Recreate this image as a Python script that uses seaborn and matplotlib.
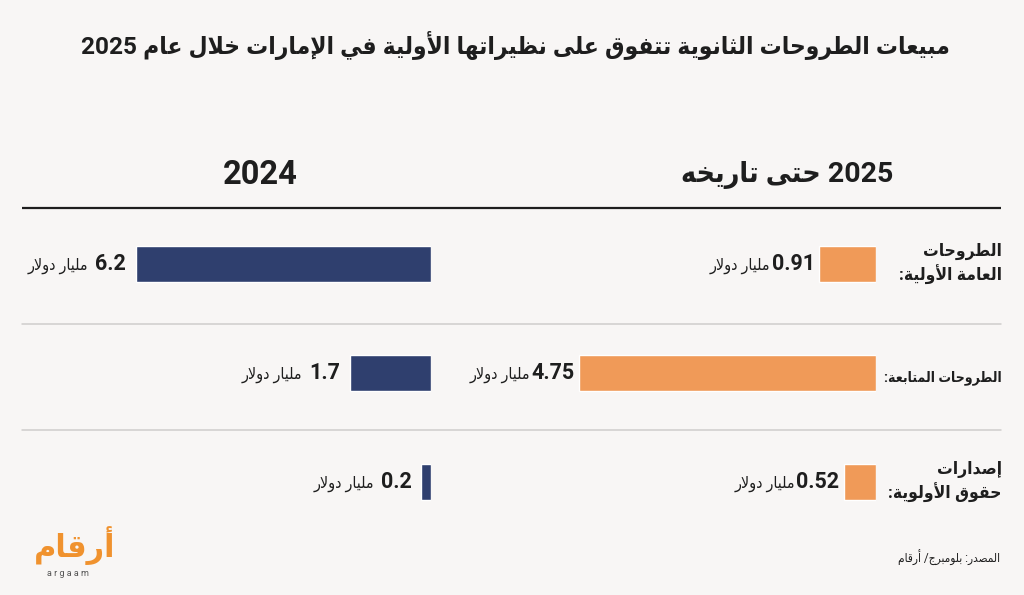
import matplotlib
matplotlib.use("Agg")
import matplotlib.pyplot as plt
import seaborn as sns
import pandas as pd

# data
categories = ["الطروحات\nالعامة الأولية:", "الطروحات المتابعة:", "إصدارات\nحقوق الأولوية:"]
values_2025 = [0.91, 4.75, 0.52]
values_2024 = [6.2, 1.7, 0.2]
labels_2025 = ["0.91", "4.75", "0.52"]
labels_2024 = ["6.2", "1.7", "0.2"]
unit = "مليار دولار"
title = "مبيعات الطروحات الثانوية تتفوق على نظيراتها الأولية في الإمارات خلال عام 2025"
header_2025 = "2025 حتى تاريخه"
header_2024 = "2024"
source = "المصدر: بلومبرج/ أرقام"

BG = "#f8f6f5"
ORANGE = "#f09a58"
NAVY = "#2f3f6e"
DARK = "#1e1e1e"

# matplotlib has no arabic shaping, so do the letter forms + rtl order by hand
FORMS = {
    'ء': (0xFE80, 1), 'آ': (0xFE81, 2), 'أ': (0xFE83, 2), 'ؤ': (0xFE85, 2), 'إ': (0xFE87, 2),
    'ئ': (0xFE89, 4), 'ا': (0xFE8D, 2), 'ب': (0xFE8F, 4), 'ة': (0xFE93, 2), 'ت': (0xFE95, 4),
    'ث': (0xFE99, 4), 'ج': (0xFE9D, 4), 'ح': (0xFEA1, 4), 'خ': (0xFEA5, 4), 'د': (0xFEA9, 2),
    'ذ': (0xFEAB, 2), 'ر': (0xFEAD, 2), 'ز': (0xFEAF, 2), 'س': (0xFEB1, 4), 'ش': (0xFEB5, 4),
    'ص': (0xFEB9, 4), 'ض': (0xFEBD, 4), 'ط': (0xFEC1, 4), 'ظ': (0xFEC5, 4), 'ع': (0xFEC9, 4),
    'غ': (0xFECD, 4), 'ف': (0xFED1, 4), 'ق': (0xFED5, 4), 'ك': (0xFED9, 4), 'ل': (0xFEDD, 4),
    'م': (0xFEE1, 4), 'ن': (0xFEE5, 4), 'ه': (0xFEE9, 4), 'و': (0xFEED, 2), 'ى': (0xFEEF, 2),
    'ي': (0xFEF1, 4),
}
LAM_ALEF = {'آ': 0xFEF5, 'أ': 0xFEF7, 'إ': 0xFEF9, 'ا': 0xFEFB}


def shape_line(s):
    toks = []
    i = 0
    while i < len(s):
        if s[i] == 'ل' and i + 1 < len(s) and s[i + 1] in LAM_ALEF:
            toks.append((LAM_ALEF[s[i + 1]], 2))
            i += 2
        elif s[i] in FORMS:
            toks.append(FORMS[s[i]])
            i += 1
        else:
            toks.append((s[i], 0))
            i += 1
    out = []
    for k, (base, n) in enumerate(toks):
        if n == 0:
            out.append(base)
            continue
        prev_ok = k > 0 and toks[k - 1][1] == 4 and n >= 2
        next_ok = n == 4 and k + 1 < len(toks) and toks[k + 1][1] >= 2
        if n == 1:
            off = 0
        elif prev_ok and next_ok:
            off = 3
        elif prev_ok:
            off = 1
        elif next_ok:
            off = 2
        else:
            off = 0
        out.append(chr(base + off))
    # visual order: reverse, but keep numbers left to right
    runs = []
    for ch in out:
        ltr = ch.isascii() and (ch.isalnum() or ch == '.')
        if runs and runs[-1][0] == ltr:
            runs[-1][1].append(ch)
        else:
            runs.append([ltr, [ch]])
    vis = ""
    for ltr, chars in reversed(runs):
        vis += "".join(chars) if ltr else "".join(reversed(chars))
    return vis


def ar(s):
    return "\n".join(shape_line(line) for line in s.split("\n"))


sns.set_style("white")
plt.rcParams['font.family'] = ['Roboto', 'DejaVu Sans']

W, H = 1024, 595
fig = plt.figure(figsize=(W / 100, H / 100), dpi=100, facecolor=BG)

bg = fig.add_axes([0, 0, 1, 1])
bg.set_xlim(0, W)
bg.set_ylim(H, 0)
bg.axis('off')
bg.set_facecolor(BG)


def px_axes(x0, x1, y0, y1):
    a = fig.add_axes([x0 / W, 1 - y1 / H, (x1 - x0) / W, (y1 - y0) / H])
    a.patch.set_alpha(0)
    return a


df = pd.DataFrame({"cat": categories, "v2025": values_2025, "v2024": values_2024})

# right panel: 2025 ytd
ax25 = px_axes(470, 876, 209, 537)
sns.barplot(data=df, x="v2025", y="cat", orient="h", color=ORANGE, width=0.33,
            saturation=1, ax=ax25)
ax25.set_xlim(406 / 62.5, 0)
ax25.set_ylim(2.5, -0.5)
ax25.axis('off')

# left panel: 2024
ax24 = px_axes(30, 431, 209, 537)
sns.barplot(data=df, x="v2024", y="cat", orient="h", color=NAVY, width=0.33,
            saturation=1, ax=ax24)
ax24.set_xlim(401 / 47.6, 0)
ax24.set_ylim(2.5, -0.5)
ax24.axis('off')

for ax, vals, labs, gap, ugap in [(ax25, values_2025, labels_2025, -3, -1),
                                   (ax24, values_2024, labels_2024, -7, -5)]:
    for i, (v, lab) in enumerate(zip(vals, labs)):
        t = ax.annotate(lab, xy=(v, i), xytext=(gap, 0), textcoords='offset points',
                        ha='right', va='center', fontsize=15.5, fontweight='bold', color=DARK)
        ax.annotate(ar(unit), xy=(0, 0.42), xycoords=t, xytext=(ugap, 0),
                    textcoords='offset points', ha='right', va='center',
                    fontsize=11.5, fontstretch='condensed', color=DARK)

# row labels, shrunk if wider than the gap between bars and right edge
row_y = [264, 378, 482]
renderer = fig.canvas.get_renderer()
for c, y in zip(categories, row_y):
    t = bg.text(1002, y, ar(c), ha='right', va='center', fontsize=12.5, fontweight='bold',
                fontstretch='condensed', color=DARK, linespacing=1.3)
    w = t.get_window_extent(renderer).width
    if w > 118:
        t.set_fontsize(12.5 * 118 / w)

# rules
bg.plot([22, 1001], [208, 208], color=DARK, lw=1.6, solid_capstyle='butt')
for y in [324, 430]:
    bg.plot([22, 1001], [y, y], color="#cfcdcc", lw=1.1)

# headers and title
bg.text(260, 175, header_2024, ha='center', va='center', fontsize=23.5, fontweight='bold', color=DARK)
bg.text(787, 175, ar(header_2025), ha='center', va='center', fontsize=20.5, fontweight='bold',
        fontstretch='condensed', color=DARK)
bg.text(515, 46, ar(title), ha='center', va='center', fontsize=17.6, fontweight='bold',
        fontstretch='condensed', color=DARK)

# footer
bg.text(1000, 558, ar(source), ha='right', va='center', fontsize=8.5,
        fontstretch='condensed', color=DARK)
bg.text(75, 546, ar("أرقام"), ha='center', va='center', fontsize=22, fontweight='bold', color="#f0922e")
bg.text(68, 573, "a r g a a m", ha='center', va='center', fontsize=6.5, color="#555555")

fig.savefig("out.png", dpi=100, facecolor=BG)
